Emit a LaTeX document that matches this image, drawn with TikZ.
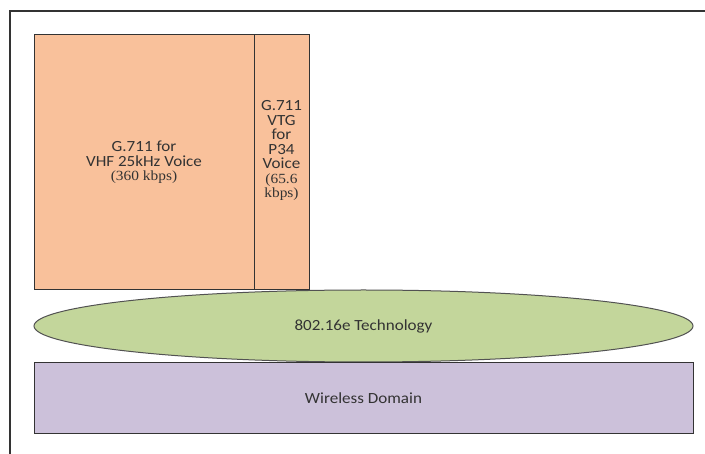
\documentclass[tikz,border=0pt]{standalone}
\usepackage{fontspec}
\setmainfont{Carlito}[FakeStretch=1.1]
\newfontfamily\tnr{Liberation Serif}[FakeStretch=1.1]
\usepackage{xcolor}
\usepackage{tikz}
\usetikzlibrary{
  shapes.geometric,
  positioning}
\definecolor{peach}{HTML}{F9C19B}
\definecolor{sage}{HTML}{C3D69B}
\definecolor{lilac}{HTML}{CCC1DA}
\definecolor{ink}{HTML}{333333}

\begin{document}
\begin{tikzpicture}[x=1pt,y=-1pt,
    layer/.style={rectangle,draw=ink,line width=1pt,inner sep=0pt,text=ink,align=center,
      font=\fontsize{15.5}{14.5}\selectfont}]
        \useasboundingbox (0,0) rectangle (705,454);
        % Frame
        \draw[ink,line width=1.2pt] (10,454) -- (10,11) -- (705,11);
        % Nodes
        \node(vhf) at (144,162.5)[layer,fill=peach,minimum width=220pt,minimum height=255pt] {G.711 for\\VHF 25kHz Voice\\{\tnr\fontsize{14}{14.5}\selectfont(360 kbps)}};
        \node(vtg) at (281.5,162.5)[layer,fill=peach,minimum width=55pt,minimum height=255pt] {};
        \node(vtgtext) at ([yshift=12pt]vtg.center)[text=ink,align=center,inner sep=0pt,font=\fontsize{15.5}{14.5}\selectfont] {G.711\\VTG\\for\\P34\\Voice\\{\tnr\fontsize{14}{14.5}\selectfont(65.6}\\{\tnr\fontsize{14}{14.5}\selectfont kbps)}};
        \node(tech) at (363.5,326)[ellipse,draw=ink!85,fill=sage,line width=1pt,inner sep=0pt,minimum width=659pt,minimum height=72pt,text=ink,font=\fontsize{15.5}{14.5}\selectfont] {802.16e Technology};
        \node(wireless) at (363.5,398.5)[layer,fill=lilac,minimum width=659pt,minimum height=71pt] {Wireless Domain};
    \end{tikzpicture}
\end{document}
